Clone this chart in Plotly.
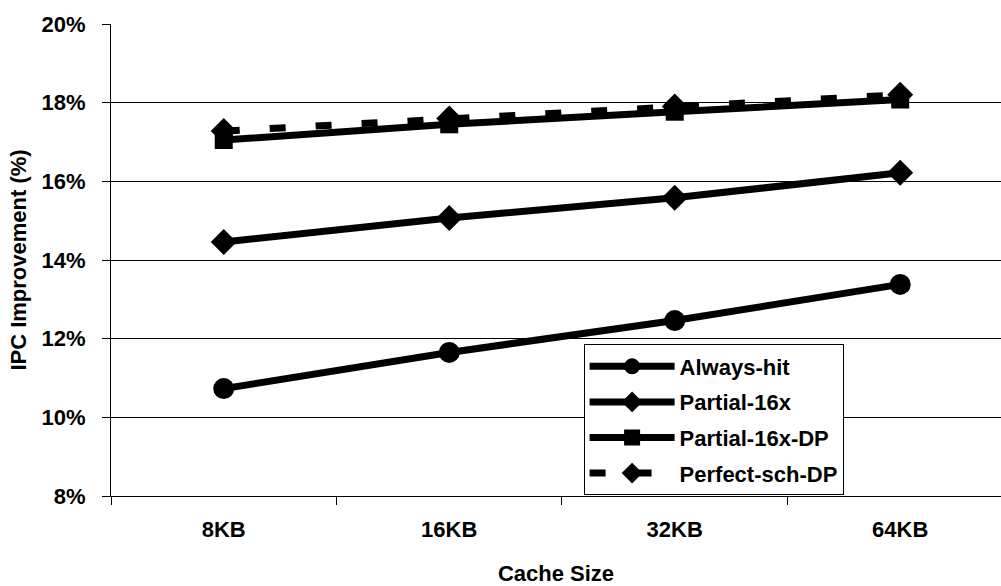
import plotly.graph_objects as go

# Cache sizes on the x axis
cache_sizes = ["8KB", "16KB", "32KB", "64KB"]

# IPC improvement (%) for each scheme
always_hit = [10.73, 11.65, 12.46, 13.38]
partial_16x = [14.46, 15.07, 15.58, 16.22]
partial_16x_dp = [17.05, 17.45, 17.77, 18.08]
perfect_sch_dp = [17.28, 17.6, 17.9, 18.2]

y_ticks = [8, 10, 12, 14, 16, 18, 20]
y_tick_labels = ["8%", "10%", "12%", "14%", "16%", "18%", "20%"]

FONT = "Liberation Sans, Arial, sans-serif"
FS = 22

fig = go.Figure()

series = [
    ("Always-hit", always_hit, "circle", 21, "solid"),
    ("Partial-16x", partial_16x, "diamond", 20, "solid"),
    ("Partial-16x-DP", partial_16x_dp, "square", 18, "solid"),
    ("Perfect-sch-DP", perfect_sch_dp, "diamond", 20, "16px,30px"),
]

for name, vals, sym, size, dash in series:
    fig.add_trace(go.Scatter(
        x=cache_sizes, y=vals, name=name, mode="lines+markers",
        legendgroup=name,
        line=dict(color="black", width=7, dash=dash),
        marker=dict(symbol=sym, size=size, color="black"),
    ))

fig.update_layout(
    width=1001, height=586,
    margin=dict(l=111, r=0, t=24, b=88),
    paper_bgcolor="white", plot_bgcolor="white",
    font=dict(family=FONT, color="black", size=FS),
    showlegend=True,
    legend=dict(
        x=0.531, y=0.321, xanchor="left", yanchor="top",
        bordercolor="black", borderwidth=1, bgcolor="white",
        font=dict(family=FONT, size=FS, color="black", weight="bold"),
        itemwidth=85, tracegroupgap=4,
    ),
    xaxis=dict(
        type="category", range=[-0.5, 3.447],
        tickson="boundaries", ticks="outside", ticklen=8, tickcolor="black",
        showline=True, linecolor="black", linewidth=1,
        showgrid=False,
        ticklabelstandoff=14,
        tickfont=dict(family=FONT, size=FS, weight="bold"),
        title=dict(text="Cache Size", standoff=28,
                   font=dict(family=FONT, size=FS, weight="bold")),
    ),
    yaxis=dict(
        range=[8, 20], tickvals=y_ticks, ticktext=y_tick_labels,
        ticks="outside", ticklen=8, tickcolor="black",
        showline=True, linecolor="black", linewidth=1,
        showgrid=True, gridcolor="black", gridwidth=1,
        zeroline=False,
        ticklabelstandoff=12,
        tickfont=dict(family=FONT, size=FS, weight="bold"),
        title=dict(text="IPC Improvement (%)", standoff=8,
                   font=dict(family=FONT, size=FS, weight="bold")),
    ),
)

fig.write_html("out.html")
